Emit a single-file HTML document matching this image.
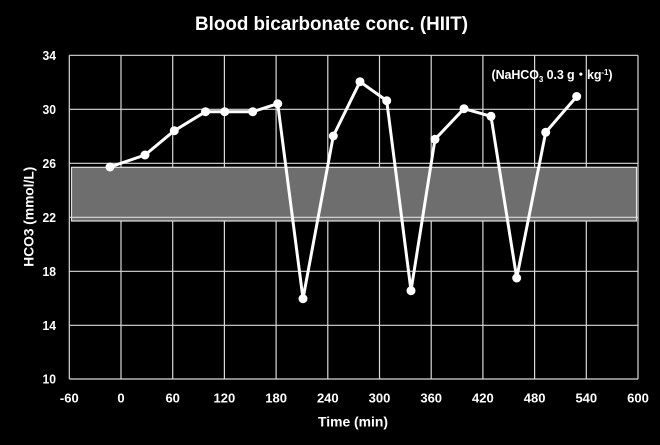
<!DOCTYPE html>
<html><head><meta charset="utf-8"><style>
html,body{margin:0;padding:0;background:#000;}
svg{display:block;}
text{font-family:"Liberation Sans","Noto Sans CJK JP",sans-serif;font-weight:bold;fill:#fff;}
</style></head><body>
<svg width="660" height="445" viewBox="0 0 660 445" xmlns="http://www.w3.org/2000/svg">
<rect width="660" height="445" fill="#000"/>
<g stroke="#d9d9d9" stroke-width="1.2">
<line x1="69.3" y1="55.3" x2="69.3" y2="379"/>
<line x1="121" y1="55.3" x2="121" y2="379"/>
<line x1="172.7" y1="55.3" x2="172.7" y2="379"/>
<line x1="224.4" y1="55.3" x2="224.4" y2="379"/>
<line x1="276.1" y1="55.3" x2="276.1" y2="379"/>
<line x1="327.8" y1="55.3" x2="327.8" y2="379"/>
<line x1="379.5" y1="55.3" x2="379.5" y2="379"/>
<line x1="431.2" y1="55.3" x2="431.2" y2="379"/>
<line x1="482.9" y1="55.3" x2="482.9" y2="379"/>
<line x1="534.6" y1="55.3" x2="534.6" y2="379"/>
<line x1="586.3" y1="55.3" x2="586.3" y2="379"/>
<line x1="638" y1="55.3" x2="638" y2="379"/>
<line x1="69.3" y1="55.3" x2="638" y2="55.3"/>
<line x1="69.3" y1="109.3" x2="638" y2="109.3"/>
<line x1="69.3" y1="163.3" x2="638" y2="163.3"/>
<line x1="69.3" y1="217.3" x2="638" y2="217.3"/>
<line x1="69.3" y1="271.3" x2="638" y2="271.3"/>
<line x1="69.3" y1="325.3" x2="638" y2="325.3"/>
<line x1="69.3" y1="379" x2="638" y2="379"/>
</g>
<rect x="71.5" y="167.3" width="565" height="53.7" fill="#6e6e6e" stroke="#e0e0e0" stroke-width="1.2"/>
<line x1="71.5" y1="217.3" x2="636.5" y2="217.3" stroke="#d9d9d9" stroke-width="1.2"/>
<polyline fill="none" stroke="#fff" stroke-width="3" stroke-linejoin="round" points="110,167 145,155 174.3,130.7 205.5,111.7 224.7,111.7 252.7,111.7 277.7,103.7 303,298.7 333.3,136 360,81.7 386.7,100.7 411,290.7 435,139.3 464,108.7 491,116.3 516.7,278 545.7,132.3 576.7,96.5"/>
<g fill="#fff">
<circle cx="110" cy="167" r="4.5"/><circle cx="145" cy="155" r="4.5"/><circle cx="174.3" cy="130.7" r="4.5"/>
<circle cx="205.5" cy="111.7" r="4.5"/><circle cx="224.7" cy="111.7" r="4.5"/><circle cx="252.7" cy="111.7" r="4.5"/>
<circle cx="277.7" cy="103.7" r="4.5"/><circle cx="303" cy="298.7" r="4.5"/><circle cx="333.3" cy="136" r="4.5"/>
<circle cx="360" cy="81.7" r="4.5"/><circle cx="386.7" cy="100.7" r="4.5"/><circle cx="411" cy="290.7" r="4.5"/>
<circle cx="435" cy="139.3" r="4.5"/><circle cx="464" cy="108.7" r="4.5"/><circle cx="491" cy="116.3" r="4.5"/>
<circle cx="516.7" cy="278" r="4.5"/><circle cx="545.7" cy="132.3" r="4.5"/><circle cx="576.7" cy="96.5" r="4.5"/>
</g>
<text x="195" y="30" font-size="19" textLength="273" lengthAdjust="spacingAndGlyphs">Blood bicarbonate conc. (HIIT)</text>
<g font-size="13" text-anchor="end">
<text x="56" y="59.8" textLength="13.5" lengthAdjust="spacingAndGlyphs">34</text>
<text x="56" y="113.8" textLength="13.5" lengthAdjust="spacingAndGlyphs">30</text>
<text x="56" y="167.8" textLength="13.5" lengthAdjust="spacingAndGlyphs">26</text>
<text x="56" y="221.8" textLength="13.5" lengthAdjust="spacingAndGlyphs">22</text>
<text x="56" y="275.8" textLength="13.5" lengthAdjust="spacingAndGlyphs">18</text>
<text x="56" y="329.8" textLength="13.5" lengthAdjust="spacingAndGlyphs">14</text>
<text x="56" y="383.5" textLength="13.5" lengthAdjust="spacingAndGlyphs">10</text>
</g>
<g font-size="13" text-anchor="middle">
<text x="69.3" y="402.5">-60</text>
<text x="121" y="402.5">0</text>
<text x="172.7" y="402.5">60</text>
<text x="224.4" y="402.5">120</text>
<text x="276.1" y="402.5">180</text>
<text x="327.8" y="402.5">240</text>
<text x="379.5" y="402.5">300</text>
<text x="431.2" y="402.5">360</text>
<text x="482.9" y="402.5">420</text>
<text x="534.6" y="402.5">480</text>
<text x="586.3" y="402.5">540</text>
<text x="638" y="402.5">600</text>
</g>
<text x="318" y="426.5" font-size="14" textLength="70" lengthAdjust="spacingAndGlyphs">Time (min)</text>
<text transform="translate(33.5,266.7) rotate(-90)" x="0" y="0" font-size="13.5" textLength="100" lengthAdjust="spacingAndGlyphs">HCO3 (mmol/L)</text>
<text x="491.5" y="79" font-size="12.5" textLength="121" lengthAdjust="spacing">(NaHCO<tspan font-size="8" dy="3">3</tspan><tspan dy="-3"> 0.3 g</tspan><tspan font-family="Noto Sans CJK JP, sans-serif">・</tspan>kg<tspan font-size="8" dy="-4">-1</tspan><tspan dy="4">)</tspan></text>
</svg>
</body></html>
